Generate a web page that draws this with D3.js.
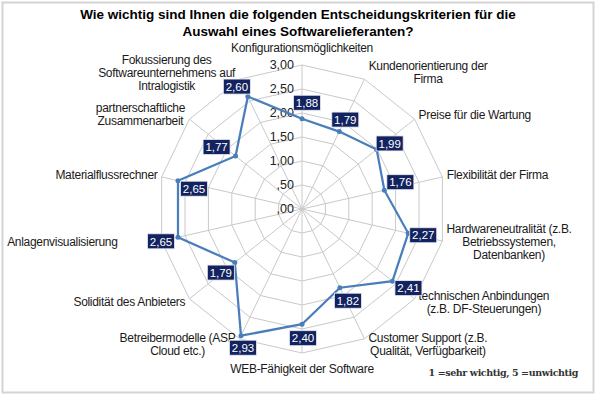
<!DOCTYPE html>
<html>
<head>
<meta charset="utf-8">
<script src="https://cdn.jsdelivr.net/npm/d3@7"></script>
<style>
  body { margin: 0; background: #fff; }
  svg { display: block; font-family: "Liberation Sans", Arial, sans-serif; }
</style>
</head>
<body>
<div id="chart"></div>
<script>
// categories clockwise from the top
var categories = [
  ["Konfigurationsmöglichkeiten"],
  ["Kundenorientierung der", "Firma"],
  ["Preise für die Wartung"],
  ["Flexibilität der Firma"],
  ["Hardwareneutralität (z.B.", "Betriebssystemen,", "Datenbanken)"],
  ["technischen Anbindungen", "(z.B. DF-Steuerungen)"],
  ["Customer Support (z.B.", "Qualität, Verfügbarkeit)"],
  ["WEB-Fähigkeit der Software"],
  ["Betreibermodelle (ASP", "Cloud etc.)"],
  ["Solidität des Anbieters"],
  ["Anlagenvisualisierung"],
  ["Materialflussrechner"],
  ["partnerschaftliche", "Zusammenarbeit"],
  ["Fokussierung des", "Softwareunternehmens auf", "Intralogistik"]
];
var values = [1.88, 1.79, 1.99, 1.76, 2.27, 2.41, 1.82, 2.40, 2.93, 1.79, 2.65, 2.65, 1.77, 2.60];
var ticks = [0, 0.5, 1, 1.5, 2, 2.5, 3];
var titleLines = ["Wie wichtig sind Ihnen die folgenden Entscheidungskriterien für die", "Auswahl eines Softwarelieferanten?"];
var footnote = "1 =sehr wichtig, 5 =unwichtig";

// where the value boxes sit relative to their point (moved by hand in the original)
var labelOffsets = [[5,-16],[6,-12],[13,-6],[16,-8],[15,2],[16,7],[8,13],[1,14],[2,12],[-14,10],[-17,4],[16,8],[-19,-9],[-11,-10]];
var catNudge = [[0,0],[0,0],[0,0],[0,0],[0,0],[0,0],[0,0],[0,0],[0,0],[0,0],[-40,0],[0,0],[0,0],[0,0]];

var W = 600, H = 400, cx = 302, cy = 209;
var n = categories.length;
var fmt = function (v) { return d3.format(".2f")(v).replace(".", ",").replace(/^0,/, ","); };

var r = d3.scaleLinear().domain([0, 3]).range([0, 144]);
var angle = function (i) { return i * 2 * Math.PI / n; };
var px = function (i, v) { return cx + r(v) * Math.sin(angle(i)); };
var py = function (i, v) { return cy - r(v) * Math.cos(angle(i)); };

var svg = d3.select("#chart").append("svg").attr("width", W).attr("height", H);

svg.append("rect")
  .attr("x", 2.5).attr("y", 2.5).attr("width", 591).attr("height", 390)
  .attr("fill", "#fff").attr("stroke", "#d4d4d4").attr("stroke-width", 2);

svg.append("g").selectAll("text").data(titleLines).enter().append("text")
  .attr("x", 298).attr("y", function (d, i) { return 19 + i * 17; })
  .attr("text-anchor", "middle")
  .style("font-size", "13.5px").style("font-weight", "bold").attr("fill", "#000")
  .text(function (d) { return d; });

var g = svg.append("g").attr("transform", "translate(" + cx + "," + cy + ")");

// grid polygons
var radial = d3.lineRadial().angle(function (d, i) { return angle(i); }).radius(function (d) { return r(d); }).curve(d3.curveLinearClosed);
g.selectAll(".grid").data(ticks.slice(1)).enter().append("path")
  .attr("d", function (t) { return radial(d3.range(n).map(function () { return t; })); })
  .attr("fill", "none").attr("stroke", "#c9c9c9").attr("stroke-width", 1);

g.selectAll(".spoke").data(d3.range(n)).enter().append("line")
  .attr("x1", 0).attr("y1", 0)
  .attr("x2", function (i) { return r(3) * Math.sin(angle(i)); })
  .attr("y2", function (i) { return -r(3) * Math.cos(angle(i)); })
  .attr("stroke", "#c9c9c9").attr("stroke-width", 1);

// tick labels
g.selectAll(".tick").data(ticks).enter().append("text")
  .attr("x", -8).attr("y", function (t) { return -r(t) + 4; })
  .attr("text-anchor", "end").style("font-size", "12.5px").attr("fill", "#222")
  .text(fmt);

// series
g.append("path").datum(values).attr("d", radial)
  .attr("fill", "none").attr("stroke", "#4a7ebb").attr("stroke-width", 2.25);

g.selectAll(".dot").data(values).enter().append("circle")
  .attr("cx", function (d, i) { return r(d) * Math.sin(angle(i)); })
  .attr("cy", function (d, i) { return -r(d) * Math.cos(angle(i)); })
  .attr("r", 2.5).attr("fill", "#4a7ebb");

// category labels
categories.forEach(function (lines, i) {
  var s = Math.sin(angle(i)), c = Math.cos(angle(i));
  var vx = px(i, 3), vy = py(i, 3);
  var lab = svg.append("g");
  var t = lab.append("text").attr("text-anchor", "middle")
    .style("font-size", "12px").style("letter-spacing", "-0.3px").attr("fill", "#1a1a1a");
  lines.forEach(function (l, k) {
    t.append("tspan").attr("x", 0).attr("y", k * 13).text(l);
  });
  var bb = t.node().getBBox();
  var bw = bb.width, bh = lines.length * 13;
  var x, y;
  if (Math.abs(s) < 0.1) {
    x = vx;
    y = c > 0 ? vy - 10 - bh : vy + 10;
  } else {
    x = s > 0 ? vx + 4 + bw / 2 : vx - 4 - bw / 2;
    y = vy - 6.5 * c - bh / 2;
  }
  x += catNudge[i][0]; y += catNudge[i][1];
  lab.attr("transform", "translate(" + x + "," + (y + 10) + ")");
});

// value boxes
var vl = svg.append("g").selectAll("g").data(values).enter().append("g")
  .attr("transform", function (d, i) {
    return "translate(" + (px(i, d) + labelOffsets[i][0]) + "," + (py(i, d) + labelOffsets[i][1]) + ")";
  });
vl.append("rect").attr("x", -13.5).attr("y", -7.5).attr("width", 27).attr("height", 15)
  .attr("fill", "#13235f").attr("stroke", "#e8ecf4").attr("stroke-width", 0.8);
vl.append("text").attr("text-anchor", "middle").attr("y", 4.2)
  .style("font-size", "11.5px").attr("fill", "#fff")
  .text(function (d) { return fmt(d); });

svg.append("text").attr("x", 578).attr("y", 376).attr("text-anchor", "end")
  .style("font-size", "9.5px").style("font-weight", "bold").style("font-family", "'DejaVu Serif', serif")
  .style("letter-spacing", "-0.4px").attr("fill", "#333")
  .text(footnote);
</script>
</body>
</html>
